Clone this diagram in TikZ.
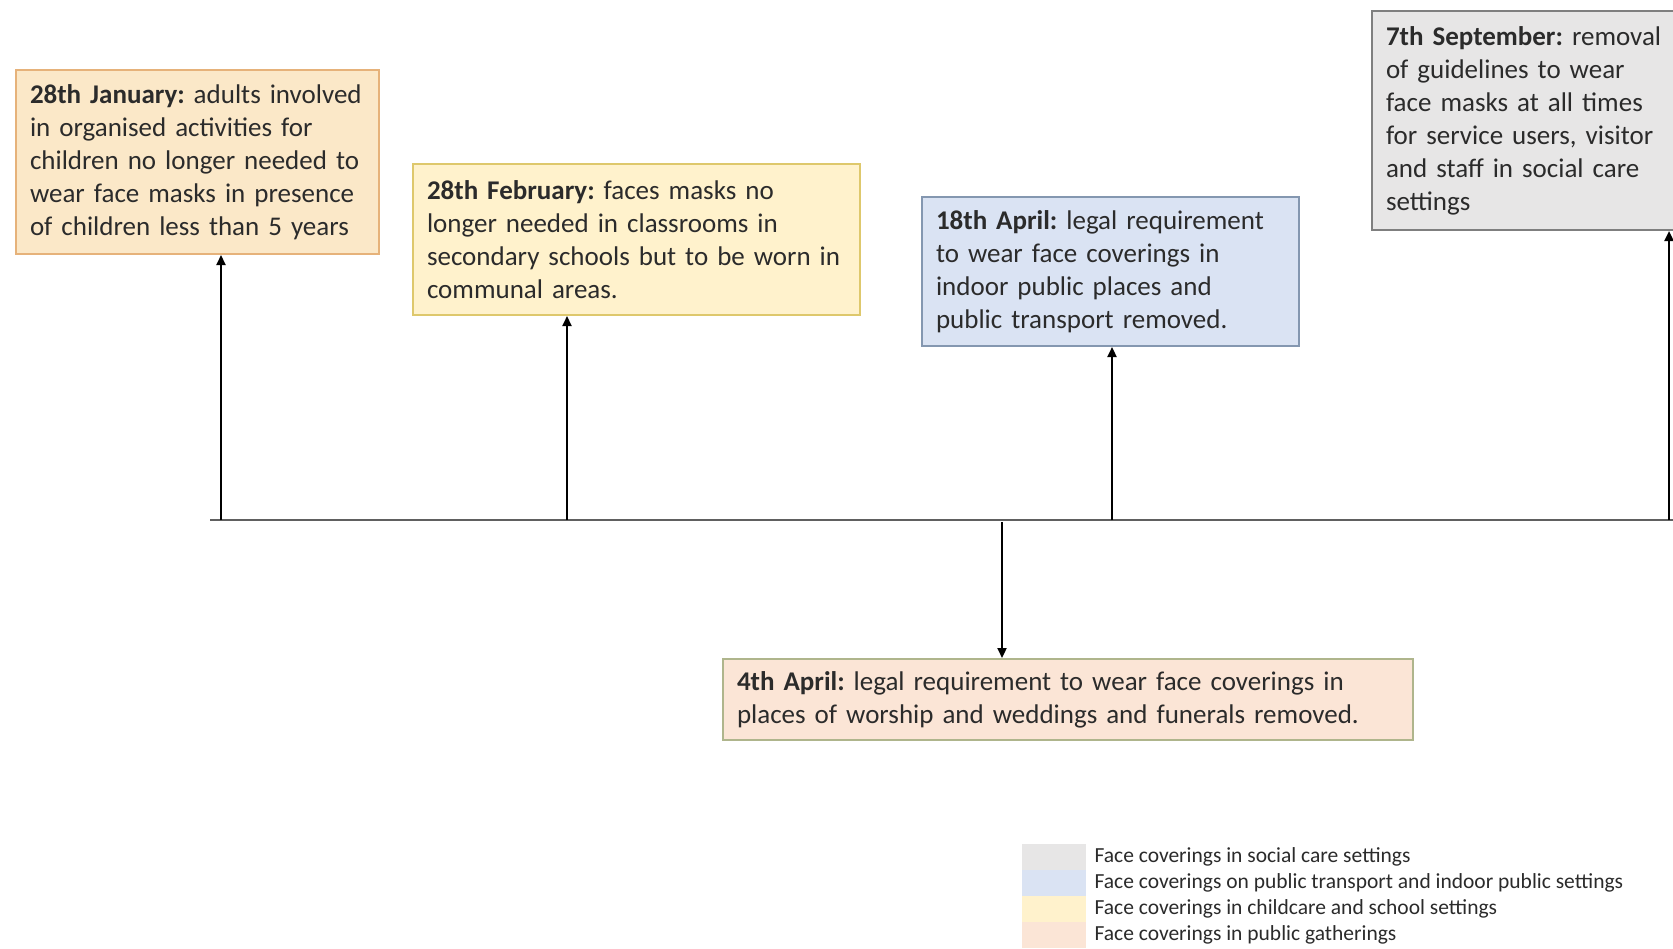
\documentclass[tikz,border=0pt]{standalone}
\usepackage{fontspec}
\setmainfont{Carlito}
\usetikzlibrary{arrows.meta}
\definecolor{txt}{HTML}{2B2B2B}
\definecolor{janfill}{HTML}{FBE8C8}
\definecolor{jandraw}{HTML}{E6B27A}
\definecolor{febfill}{HTML}{FFF2CC}
\definecolor{febdraw}{HTML}{DEC86C}
\definecolor{aprfill}{HTML}{DAE3F3}
\definecolor{aprdraw}{HTML}{8497B0}
\definecolor{sepfill}{HTML}{E7E6E6}
\definecolor{sepdraw}{HTML}{7F7F7F}
\definecolor{a4fill}{HTML}{FBE5D6}
\definecolor{a4draw}{HTML}{AFB58C}
\definecolor{tlcol}{HTML}{606060}
\newcommand{\boxfont}{\fontsize{27}{33}\selectfont\frenchspacing\hyphenpenalty=10000\relax}
\newcommand{\bline}[1]{\makebox[0pt][l]{#1}}
\tikzset{
  evbox/.style={draw, line width=2pt, anchor=north west, align=left, inner xsep=14pt, inner ysep=0pt,
    text=txt, font=\boxfont},
  arr/.style={line width=2.2pt, black, -{Triangle[length=10pt,width=9pt]}},
  tline/.style={line width=2pt, tlcol},
  swatch/.style={minimum width=64pt, minimum height=26pt, inner sep=0pt, anchor=north west},
  legtxt/.style={anchor=west, inner sep=0pt, text=txt, font=\fontsize{21.5}{24}\selectfont\frenchspacing}
}
\begin{document}
\begin{tikzpicture}[x=1pt,y=-1pt]
\useasboundingbox (0,0) rectangle (1673,948);
\clip (0,0) rectangle (1673,948);
\fill[white] (0,0) rectangle (1673,948);

% boxes
\node[evbox, fill=janfill, draw=jandraw, minimum width=363pt, minimum height=184pt, text width=335pt] (jan) at (15,69)
 {\bline{\textbf{28th January:} adults involved}\\\bline{in organised activities for}\\\bline{children no longer needed to}\\\bline{wear face masks in presence}\\\bline{of children less than 5 years}};
\node[evbox, fill=febfill, draw=febdraw, minimum width=447pt, minimum height=151pt, text width=419pt] (feb) at (412,163)
 {\bline{\textbf{28th February:} faces masks no}\\\bline{longer needed in classrooms in}\\\bline{secondary schools but to be worn in}\\\bline{communal areas.}};
\node[evbox, fill=aprfill, draw=aprdraw, minimum width=377pt, minimum height=149pt, text width=349pt] (apr) at (921,196)
 {\bline{\textbf{18th April:} legal requirement}\\\bline{to wear face coverings in}\\\bline{indoor public places and}\\\bline{public transport removed.}};
\node[evbox, fill=sepfill, draw=sepdraw, minimum width=320pt, minimum height=219pt, text width=292pt] (sep) at (1371,10)
 {\bline{\textbf{7th September:} removal}\\\bline{of guidelines to wear}\\\bline{face masks at all times}\\\bline{for service users, visitor}\\\bline{and staff in social care}\\\bline{settings}};
\node[evbox, fill=a4fill, draw=a4draw, minimum width=690pt, minimum height=81pt, text width=662pt] (a4) at (722,658)
 {\bline{\textbf{4th April:} legal requirement to wear face coverings in}\\\bline{places of worship and weddings and funerals removed.}};

% timeline
\coordinate (tl) at (210,520);
\coordinate (tr) at (1680,520);
\draw[tline] (tl) -- (tr);
\coordinate (t1) at (221,520);
\coordinate (t2) at (567,520);
\coordinate (t3) at (1112,520);
\coordinate (t4) at (1669,520);
\coordinate (t5) at (1002,522);
\draw[arr] (t1) -- (t1 |- jan.south);
\draw[arr] (t2) -- (t2 |- feb.south);
\draw[arr] (t3) -- (t3 |- apr.south);
\draw[arr] (t4) -- (t4 |- sep.south);
\draw[arr] (t5) -- (t5 |- a4.north);

% legend
\node[swatch, fill=sepfill] (s1) at (1022,844) {};
\node[swatch, fill=aprfill] (s2) at (1022,870) {};
\node[swatch, fill=febfill] (s3) at (1022,896) {};
\node[swatch, fill=a4fill] (s4) at (1022,922) {};
\node[legtxt] (l1) at ([xshift=8pt]s1.east) {Face coverings in social care settings};
\node[legtxt] (l2) at ([xshift=8pt]s2.east) {Face coverings on public transport and indoor public settings};
\node[legtxt] (l3) at ([xshift=8pt]s3.east) {Face coverings in childcare and school settings};
\node[legtxt] (l4) at ([xshift=8pt]s4.east) {Face coverings in public gatherings};
\end{tikzpicture}
\end{document}
